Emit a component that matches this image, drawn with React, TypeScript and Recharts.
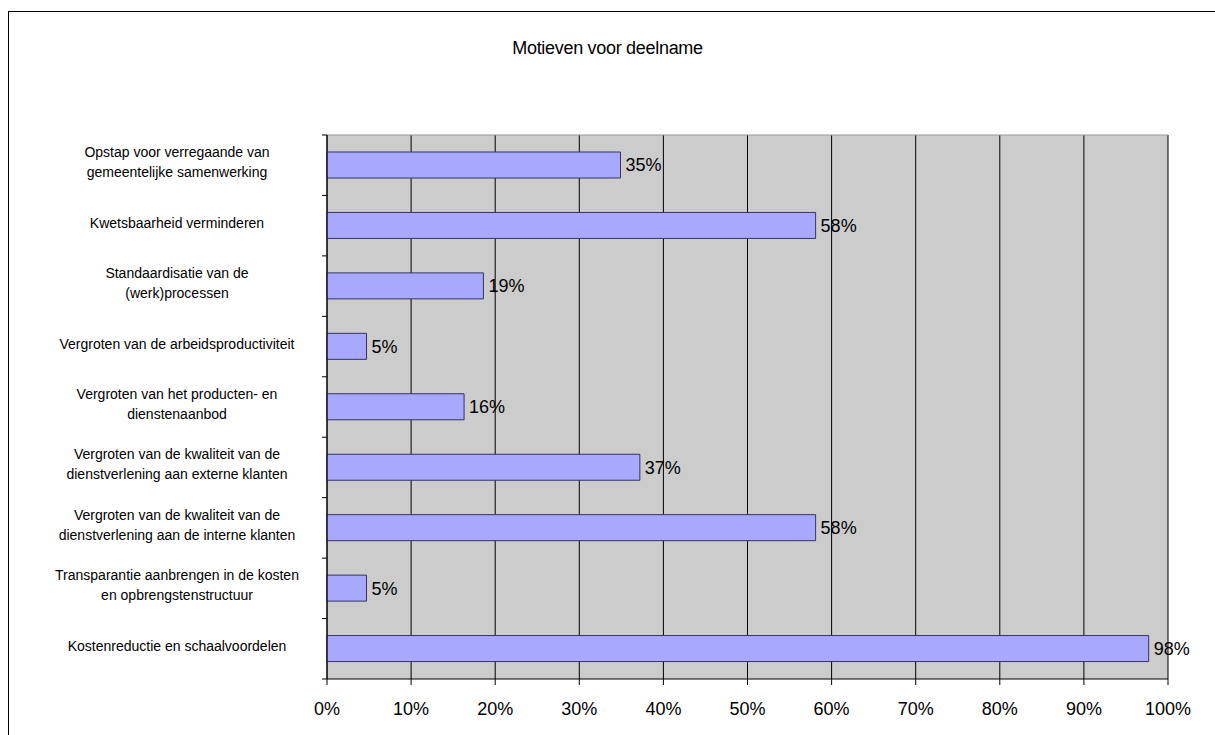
import React from "react";
import { BarChart, Bar, XAxis, YAxis, CartesianGrid, LabelList } from "recharts";

const categories: string[] = [
  "Opstap voor verregaande van\ngemeentelijke samenwerking",
  "Kwetsbaarheid verminderen",
  "Standaardisatie van de\n(werk)processen",
  "Vergroten van de arbeidsproductiviteit",
  "Vergroten van het producten- en\ndienstenaanbod",
  "Vergroten van de kwaliteit van de\ndienstverlening aan externe klanten",
  "Vergroten van de kwaliteit van de\ndienstverlening aan de interne klanten",
  "Transparantie aanbrengen in de kosten\nen opbrengstenstructuur",
  "Kostenreductie en schaalvoordelen",
];

const percentages: number[] = [34.9, 58.1, 18.6, 4.7, 16.3, 37.2, 58.1, 4.7, 97.7];

const xTicks: number[] = [0, 10, 20, 30, 40, 50, 60, 70, 80, 90, 100];

const title = "Motieven voor deelname";

const data = categories.map((name, i) => ({ name, value: percentages[i] }));

const W = 1215;
const H = 735;
const PLOT_LEFT = 327;
const PLOT_RIGHT = 1168;
const PLOT_TOP = 135;
const PLOT_BOTTOM = 679;
const XAXIS_H = 45;
const BAND = (PLOT_BOTTOM - PLOT_TOP) / categories.length;
const FONT = "'Liberation Sans', Arial, Helvetica, sans-serif";

const YTick = (props: any) => {
  const { x, y, payload, index } = props;
  const lines: string[] = String(payload.value).split("\n");
  const n = lines.length;
  const cx = x - 150;
  const isLast = index === categories.length - 1;
  return (
    <g>
      <line x1={x - 5} x2={x} y1={y - BAND / 2} y2={y - BAND / 2} stroke="#000" strokeWidth={1} />
      {isLast && (
        <line x1={x - 5} x2={x} y1={y + BAND / 2} y2={y + BAND / 2} stroke="#000" strokeWidth={1} />
      )}
      {lines.map((ln, i) => (
        <text
          key={i}
          x={cx}
          y={y - 3 + (i - (n - 1) / 2) * 20 + 5}
          textAnchor="middle"
          fontSize={14}
          fontFamily={FONT}
          fill="#000"
        >
          {ln}
        </text>
      ))}
    </g>
  );
};

export default function App() {
  return (
    <div
      style={{
        position: "fixed",
        left: 0,
        top: 0,
        width: W,
        height: H,
        overflow: "hidden",
        background: "#fff",
      }}
    >
      <div
        style={{
          position: "absolute",
          left: 8,
          top: 11,
          width: W + 40,
          height: H + 40,
          border: "1px solid #000",
          boxSizing: "border-box",
        }}
      />
      <div
        style={{
          position: "absolute",
          left: 0,
          width: W,
          top: 36,
          textAlign: "center",
          fontFamily: FONT,
          fontSize: 18,
          lineHeight: "24px",
          color: "#000",
          letterSpacing: "-0.3px",
        }}
      >
        {title}
      </div>
      <div style={{ position: "absolute", left: 0, top: 0 }}>
        <BarChart
          width={W}
          height={H}
          data={data}
          layout="vertical"
          margin={{
            top: PLOT_TOP,
            right: W - PLOT_RIGHT,
            bottom: H - PLOT_BOTTOM - XAXIS_H,
            left: 0,
          }}
          barCategoryGap="57%"
        >
          <CartesianGrid
            horizontal={false}
            vertical={true}
            fill="#CCCCCC"
            fillOpacity={1}
            stroke="#000"
            strokeWidth={1}
          />
          <CartesianGrid
            horizontal={true}
            vertical={false}
            horizontalPoints={[PLOT_TOP]}
            stroke="#999999"
            strokeWidth={1}
          />
          <XAxis
            type="number"
            domain={[0, 100]}
            ticks={xTicks}
            interval={0}
            height={XAXIS_H}
            tickFormatter={(v: number) => `${v}%`}
            tick={{ fontSize: 18, fontFamily: FONT, fill: "#000" }}
            tickSize={6}
            tickMargin={17}
            axisLine={{ stroke: "#000" }}
            tickLine={{ stroke: "#000" }}
          />
          <YAxis
            type="category"
            dataKey="name"
            width={PLOT_LEFT}
            interval={0}
            tickLine={false}
            tickSize={0}
            tickMargin={0}
            axisLine={{ stroke: "#000" }}
            tick={<YTick />}
          />
          <Bar
            dataKey="value"
            fill="#A8A8FF"
            stroke="#333366"
            strokeWidth={1}
            barSize={26}
            isAnimationActive={false}
          >
            <LabelList
              dataKey="value"
              position="right"
              offset={5}
              formatter={(v: any) => `${Math.round(Number(v))}%`}
              style={{ fontSize: 18, fontFamily: FONT, fill: "#000" }}
            />
          </Bar>
        </BarChart>
      </div>
    </div>
  );
}
